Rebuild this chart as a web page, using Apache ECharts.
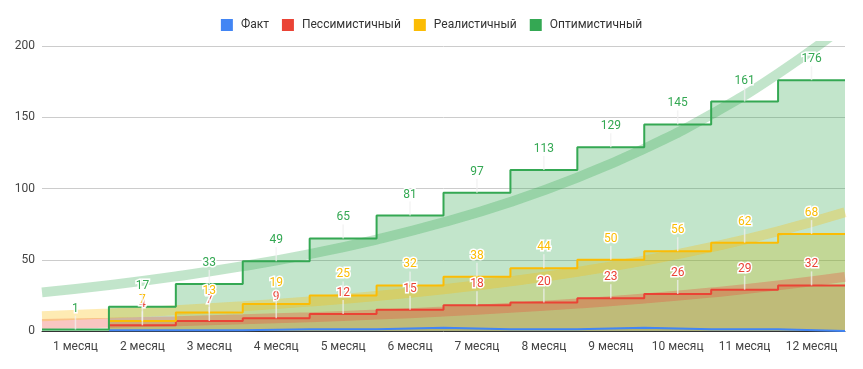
<!DOCTYPE html>
<html>
<head>
<meta charset="utf-8">
<script src="https://cdn.jsdelivr.net/npm/echarts@6/dist/echarts.min.js"></script>
<style>html,body{margin:0;padding:0;background:#fff}#c{width:863px;height:369px}</style>
</head>
<body>
<div id="c"></div>
<script>
const categories = ['1 месяц','2 месяц','3 месяц','4 месяц','5 месяц','6 месяц','7 месяц','8 месяц','9 месяц','10 месяц','11 месяц','12 месяц'];
const seriesNames = ['Факт','Пессимистичный','Реалистичный','Оптимистичный'];
const colors = ['#4285F4','#EA4335','#FBBC04','#34A853'];
const fact = [null,0.6,0.6,1.2,1.2,2.3,1.2,1.2,2.3,1.2,1.2,0];
const pess = [null,4,7,9,12,15,18,20,23,26,29,32];
const real = [null,7,13,19,25,32,38,44,50,56,62,68];
const opt  = [1,17,33,49,65,81,97,113,129,145,161,176];
// trendline values read at band boundaries (0..12)
const trendPess = [4.9,5.8,6.9,8.2,9.7,11.5,13.7,16.3,19.3,22.8,27.0,32.0,38.0];
const trendReal = [10.3,12.3,14.6,17.4,20.7,24.6,29.3,34.9,41.5,49.4,58.8,70.0,83.3];
const trendOpt  = [27.1,32.2,38.3,45.5,54.0,64.2,76.3,90.6,107.7,127.9,152.0,180.6,214.6];
const yTicks = [0,50,100,150,200];

const values = [fact, pess, real, opt];
const trends = [null, trendPess, trendReal, trendOpt];

function stepData(arr){
  const d = arr.map((v,i)=>[i, v]);
  d.push([arr.length, arr[arr.length-1]]);
  return d;
}

const series = [];
values.forEach((arr, k) => {
  series.push({
    name: seriesNames[k], type: 'line', xAxisIndex: 1, step: 'end',
    data: stepData(arr), showSymbol: false, symbol: 'none', z: 1,
    lineStyle: {width: 0, opacity: 0}, itemStyle: {color: colors[k]},
    areaStyle: {color: colors[k], opacity: 0.3}, silent: true, connectNulls: false
  });
});
trends.forEach((arr, k) => {
  if (!arr) return;
  series.push({
    name: 'trend' + k, type: 'line', xAxisIndex: 1, smooth: true,
    data: arr.map((v,i)=>[i, v]), showSymbol: false, symbol: 'none', z: 2,
    lineStyle: {width: 10, color: colors[k], opacity: 0.3, cap: 'butt'}, silent: true
  });
});
values.forEach((arr, k) => {
  series.push({
    name: seriesNames[k], type: 'line', xAxisIndex: 1, step: 'end',
    data: stepData(arr), showSymbol: false, symbol: 'none', z: 3,
    lineStyle: {width: 2, color: colors[k]}, itemStyle: {color: colors[k]}, silent: true
  });
});
values.forEach((arr, k) => {
  if (k === 0) return;
  const color = colors[k];
  series.push({
    name: 'ann' + k, type: 'custom', xAxisIndex: 1, z: 4 + k, clip: false, silent: true,
    data: arr.map((v,i)=> v === null ? null : [i + 0.5, v]).filter(d => d),
    renderItem: function(params, api){
      const p = api.coord([api.value(0), api.value(1)]);
      return {type: 'group', children: [
        {type: 'line', shape: {x1: p[0], y1: p[1], x2: p[0], y2: p[1] - 14},
         style: {stroke: 'rgba(240,240,240,0.75)', lineWidth: 1.5}},
        {type: 'text', x: p[0], y: p[1] - 21,
         style: {text: String(api.value(1)), fill: color, font: '12px Roboto',
                 align: 'center', verticalAlign: 'middle', stroke: '#fff', lineWidth: 3}}
      ]};
    }
  });
});

const chart = echarts.init(document.getElementById('c'));
chart.setOption({
  animation: false,
  textStyle: {fontFamily: 'Roboto'},
  legend: {
    top: 14, left: 'center', itemWidth: 12, itemHeight: 12, itemGap: 13, icon: 'rect',
    textStyle: {fontSize: 12, color: '#333', fontFamily: 'Roboto', padding: [0,0,0,3]},
    data: seriesNames.map((n,k)=>({name: n, itemStyle: {color: colors[k]}}))
  },
  grid: {left: 42, right: 18, top: 46, bottom: 38},
  xAxis: [
    {type: 'category', data: categories, boundaryGap: true,
     axisTick: {show: false}, axisLine: {show: true, lineStyle: {color: '#333', width: 1}},
     axisLabel: {color: '#444', fontSize: 12, margin: 10, fontFamily: 'Roboto', interval: 0}},
    {type: 'value', min: 0, max: 12, show: false}
  ],
  yAxis: {
    type: 'value', min: yTicks[0], max: yTicks[yTicks.length-1], interval: 50,
    axisLine: {show: false}, axisTick: {show: false},
    axisLabel: {color: '#444', fontSize: 12, margin: 7, fontFamily: 'Roboto'},
    splitLine: {lineStyle: {color: '#ccc'}}
  },
  series: series
});
</script>
</body>
</html>
